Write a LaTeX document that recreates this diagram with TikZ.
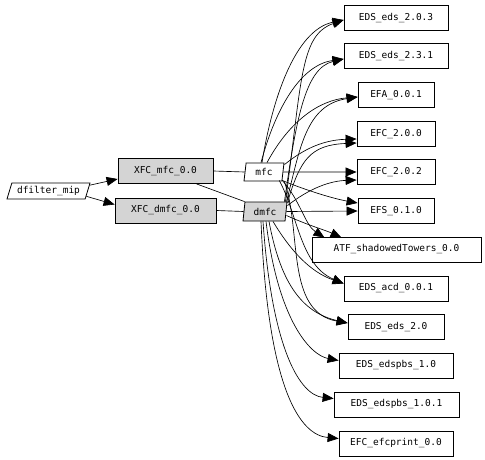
\documentclass[tikz,border=0pt]{standalone}
\usepackage{fontspec}
\setmonofont{DejaVu Sans Mono}
\usetikzlibrary{arrows.meta,shapes.geometric}
\begin{document}
\begin{tikzpicture}[x=1pt,y=-1pt,
  every node/.style={font=\ttfamily\fontsize{9.5}{11}\selectfont, inner sep=0pt},
  pkg/.style={draw, line width=0.8pt, minimum height=25pt},
  xfc/.style={pkg, fill=black!17},
  pgram/.style={draw, line width=0.8pt, shape=trapezium, trapezium stretches body},
  dep/.style={line width=0.65pt, -{Triangle[length=11pt,width=9pt]}},
  lnk/.style={line width=0.65pt}]
\useasboundingbox (0,0) rectangle (485,460);
% left side
\node[pgram, trapezium left angle=63, trapezium right angle=117, minimum width=83pt, minimum height=16pt] (dfm) at (48.5,191) {dfilter\_mip};
\node[xfc, minimum width=95pt] (xmfc) at (165.5,171) {XFC\_mfc\_0.0};
\node[xfc, minimum width=101pt] (xdmfc) at (165.5,210.5) {XFC\_dmfc\_0.0};
\node[pgram, fill=white, trapezium left angle=74, trapezium right angle=106, minimum width=40pt, minimum height=18pt] (mfc) at (264,172) {mfc};
\node[pgram, fill=black!17, trapezium left angle=75, trapezium right angle=105, minimum width=44pt, minimum height=19pt] (dmfc) at (265,211.5) {dmfc};
% right side
\node[pkg, minimum width=104pt] (t1) at (396,18) {EDS\_eds\_2.0.3};
\node[pkg, minimum width=104pt] (t2) at (396,56) {EDS\_eds\_2.3.1};
\node[pkg, minimum width=76pt] (t3) at (396,95) {EFA\_0.0.1};
\node[pkg, minimum width=78pt] (t4) at (396,134) {EFC\_2.0.0};
\node[pkg, minimum width=78pt] (t5) at (396,172) {EFC\_2.0.2};
\node[pkg, minimum width=76pt] (t6) at (396,211) {EFS\_0.1.0};
\node[pkg, minimum width=169pt] (t7) at (396.5,249.5) {ATF\_shadowedTowers\_0.0};
\node[pkg, minimum width=104pt] (t8) at (396,288.5) {EDS\_acd\_0.0.1};
\node[pkg, minimum width=96pt] (t9) at (396,327) {EDS\_eds\_2.0};
\node[pkg, minimum width=114pt] (t10) at (396,365.5) {EDS\_edspbs\_1.0};
\node[pkg, minimum width=125pt] (t11) at (396.5,404.5) {EDS\_edspbs\_1.0.1};
\node[pkg, minimum width=114pt] (t12) at (396,443.5) {EFC\_efcprint\_0.0};
% left edges
\draw[dep] (dfm.8) -- ([yshift=-8pt]xmfc.west);
\draw[dep] (dfm.-8) -- ([yshift=6pt]xdmfc.west);
\draw[lnk] (xmfc.east) -- (mfc.west);
\draw[lnk] ([xshift=31pt]xmfc.south) -- (dmfc.top left corner);
\draw[lnk] (xdmfc.east) -- (dmfc.west);
% mfc edges
\draw[dep] ([xshift=-2pt]mfc.north) .. controls (272,100) and (295,30) .. ([yshift=-2pt]t1.west);
\draw[dep] ([xshift=-3pt]mfc.north) .. controls (275,110) and (300,65) .. ([yshift=-3pt]t2.west);
\draw[dep] ([xshift=3pt]mfc.north) .. controls (290,120) and (320,100) .. ([yshift=-2pt]t3.west);
\draw[dep] ([yshift=-2pt]mfc.top right corner) .. controls (300,152) and (320,140) .. ([yshift=-5pt]t4.west);
\draw[dep] (mfc.east) -- (t5.west);
\draw[dep] ([yshift=1pt]mfc.bottom right corner) .. controls (300,188) and (330,198) .. ([yshift=8pt]t6.west);
\draw[dep] ([yshift=1pt]mfc.bottom right corner) .. controls (300,200) and (305,225) .. ([xshift=-72pt,yshift=-1pt]t7.north);
\draw[dep] ([xshift=-3pt,yshift=1pt]mfc.bottom right corner) .. controls (298,215) and (300,265) .. ([yshift=5pt]t8.west);
\draw[dep] ([xshift=2pt]mfc.bottom right corner) .. controls (302,230) and (285,312) .. ([yshift=4pt]t9.west);
% dmfc edges
\draw[dep] ([xshift=-2pt]dmfc.top right corner) .. controls (302,80) and (300,35) .. ([yshift=-2pt]t1.west);
\draw[dep] ([xshift=-3pt]dmfc.top right corner) .. controls (296,120) and (305,68) .. ([yshift=-3pt]t2.west);
\draw[dep] ([xshift=-1pt]dmfc.top right corner) .. controls (300,150) and (305,105) .. ([yshift=-2pt]t3.west);
\draw[dep] ([yshift=-1pt]dmfc.top right corner) .. controls (300,160) and (310,145) .. ([yshift=-9pt]t4.west);
\draw[dep] ([yshift=-4pt]dmfc.top right corner) .. controls (310,188) and (330,181) .. ([yshift=-8pt]t5.west);
\draw[dep] (dmfc.east) -- (t6.west);
\draw[dep] ([yshift=-4pt]dmfc.east) .. controls (310,226) and (325,230) .. ([xshift=-55pt,yshift=-1pt]t7.north);
\draw[dep] ([xshift=8pt]dmfc.south) .. controls (290,250) and (310,272) .. ([yshift=5pt]t8.west);
\draw[dep] ([xshift=4pt]dmfc.south) .. controls (280,280) and (300,312) .. ([yshift=4pt]t9.west);
\draw[dep] ([xshift=1pt]dmfc.south) .. controls (278,320) and (310,355) .. ([yshift=5pt]t10.west);
\draw[dep] ([xshift=-2pt]dmfc.south) .. controls (272,350) and (300,395) .. ([yshift=6pt]t11.west);
\draw[dep] ([xshift=-4pt]dmfc.south) .. controls (268,390) and (300,435) .. ([yshift=5pt]t12.west);
\end{tikzpicture}
\end{document}
